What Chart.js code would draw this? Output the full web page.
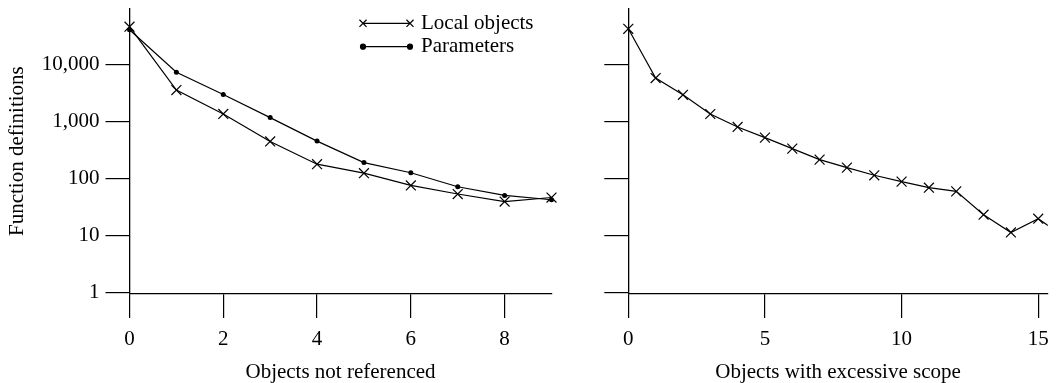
<!DOCTYPE html>
<html>
<head>
<meta charset="utf-8">
<script src="https://cdn.jsdelivr.net/npm/chart.js@4/dist/chart.umd.min.js"></script>
<style>
  body { margin: 0; background: #fff; }
  #wrap { position: relative; width: 1056px; height: 383px; }
  canvas { position: absolute; top: 0; }
</style>
</head>
<body>
<div id="wrap">
  <canvas id="leftChart" width="560" height="383" style="left:0"></canvas>
  <canvas id="rightChart" width="496" height="383" style="left:560px"></canvas>
</div>
<script>
// values (log scale)
const notRefX = [0, 1, 2, 3, 4, 5, 6, 7, 8, 9];
const localNotRef = [45900, 3540, 1350, 444, 177, 123, 75, 53, 39, 46];
const paramNotRef = [40700, 7280, 2960, 1164, 450, 189, 125, 71, 50, 42];

const scopeX = [0, 1, 2, 3, 4, 5, 6, 7, 8, 9, 10, 11, 12, 13, 14, 15, 16];
const localScope = [42200, 5750, 2930, 1346, 796, 518, 332, 213, 154, 113, 87.5, 68.5, 59, 23, 11.2, 19.5, 9];

const yTicks = [1, 10, 100, 1000, 10000];
const leftXTicks = [0, 2, 4, 6, 8];
const rightXTicks = [0, 5, 10, 15];

const serif = "'Liberation Serif', 'Times New Roman', serif";
Chart.defaults.font.family = serif;
Chart.defaults.font.size = 21;
Chart.defaults.color = "#000";

const pts = (xs, ys) => xs.map((x, i) => ({ x, y: ys[i] }));

const localStyle = {
  borderColor: "#000",
  borderWidth: 1.2,
  pointStyle: "crossRot",
  pointRadius: 7,
  pointBorderWidth: 1.2,
  pointBorderColor: "#000",
  pointBackgroundColor: "#000",
  tension: 0,
  fill: false,
};
const paramStyle = {
  borderColor: "#000",
  borderWidth: 1.2,
  pointStyle: "circle",
  pointRadius: 2.5,
  pointBorderWidth: 0,
  pointBackgroundColor: "#000",
  tension: 0,
  fill: false,
};

function setTicks(list) {
  return scale => { scale.ticks = list.map(v => ({ value: v })); };
}

function axes(xMax, xTickList, yWidth, showY) {
  return {
    x: {
      type: "linear",
      min: 0,
      max: xMax,
      afterBuildTicks: setTicks(xTickList),
      afterFit: s => { s.height = 89; s.paddingLeft = 0; s.paddingRight = 0; },
      border: { color: "#000", width: 1.3 },
      grid: { drawOnChartArea: false, drawTicks: true, tickLength: 24, color: "#000", lineWidth: 1.2 },
      ticks: { padding: 9, maxRotation: 0, autoSkip: false },
      title: { display: true, font: { size: 21, lineHeight: 1 }, padding: { top: 0, bottom: 0 } },
    },
    y: {
      type: "logarithmic",
      min: 0.93,
      max: 97000,
      afterBuildTicks: setTicks(yTicks),
      afterFit: s => { s.width = yWidth; s.paddingTop = 0; s.paddingBottom = 0; },
      border: { color: "#000", width: 1.3 },
      grid: { drawOnChartArea: false, drawTicks: true, tickLength: 24, color: "#000", lineWidth: 1.2 },
      ticks: {
        padding: 6,
        autoSkip: false,
        callback: v => showY ? Number(v).toLocaleString("en-US") : "",
      },
      title: { display: showY, text: "Function definitions", font: { size: 21, lineHeight: 1 }, padding: { top: 7, bottom: 0 } },
    },
  };
}

// legend: short line with a marker at each end, then the label
const lineLegend = {
  id: "lineLegend",
  afterDatasetsDraw(chart) {
    const ctx = chart.ctx;
    const rows = [23.3, 46.7];
    ctx.save();
    chart.data.datasets.forEach((ds, i) => {
      const y = rows[i];
      ctx.strokeStyle = "#000";
      ctx.lineWidth = 1.2;
      ctx.beginPath();
      ctx.moveTo(363, y);
      ctx.lineTo(410, y);
      ctx.stroke();
      const r = ds.pointStyle === "crossRot" ? 5 : 2.5;
      const opts = { pointStyle: ds.pointStyle, radius: r, rotation: 0, borderWidth: 1.2 };
      ctx.fillStyle = "#000";
      [363, 410].forEach(x => Chart.helpers.drawPoint(ctx, opts, x, y));
      ctx.fillStyle = "#000";
      ctx.font = "21px " + serif;
      ctx.textBaseline = "middle";
      ctx.textAlign = "left";
      ctx.fillText(ds.label, 421, y);
    });
    ctx.restore();
  },
};

const leftAxes = axes(9, leftXTicks, 129.5, true);
leftAxes.x.title.text = "Objects not referenced";

new Chart(document.getElementById("leftChart"), {
  type: "line",
  data: {
    datasets: [
      Object.assign({ label: "Local objects", data: pts(notRefX, localNotRef), clip: false }, localStyle),
      Object.assign({ label: "Parameters", data: pts(notRefX, paramNotRef), clip: false }, paramStyle),
    ],
  },
  options: {
    responsive: false,
    animation: false,
    layout: { padding: { top: 6, right: 8.5, bottom: 0, left: 0 } },
    plugins: { legend: { display: false }, tooltip: { enabled: false } },
    scales: leftAxes,
  },
  plugins: [lineLegend],
});

const rightAxes = axes(15.35, rightXTicks, 68.3, false);
rightAxes.x.title.text = "Objects with excessive scope";

new Chart(document.getElementById("rightChart"), {
  type: "line",
  data: {
    datasets: [
      Object.assign({ label: "Local objects", data: pts(scopeX, localScope),
        clip: { left: false, top: false, bottom: false, right: 0 } }, localStyle),
    ],
  },
  options: {
    responsive: false,
    animation: false,
    layout: { padding: { top: 6, right: 4.3, bottom: 0, left: 0 } },
    plugins: { legend: { display: false }, tooltip: { enabled: false } },
    scales: rightAxes,
  },
});
</script>
</body>
</html>
